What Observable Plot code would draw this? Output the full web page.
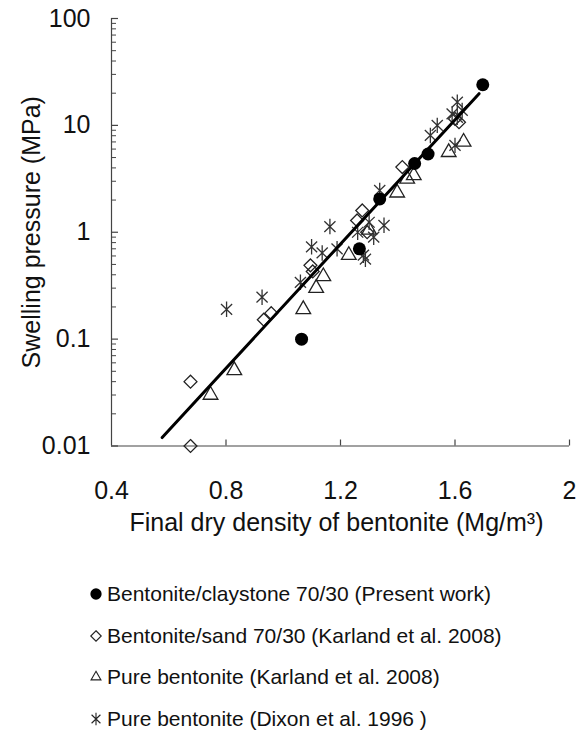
<!DOCTYPE html>
<html><head><meta charset="utf-8">
<script src="https://cdn.jsdelivr.net/npm/d3@7"></script>
<script src="https://cdn.jsdelivr.net/npm/@observablehq/plot@0.6"></script>
<style>
body{margin:0;background:#fff;font-family:Arial,"Liberation Sans",sans-serif;}
#legend{padding-top:13px;}
.row{display:flex;align-items:center;height:41.8px;font-size:21px;color:#111;margin-left:89px;}
.row svg{width:14px;height:14px;margin-right:4px;flex:none;}
</style></head><body><div id="chart"></div><div id="legend"></div>
<script>
// Bentonite/claystone 70/30 (Present work)
const presentX = [1.064, 1.266, 1.337, 1.459, 1.506, 1.697];
const presentY = [0.10, 0.70, 2.05, 4.4, 5.4, 24];
// Bentonite/sand 70/30 (Karland et al. 2008)
const sandX = [0.676, 0.676, 0.932, 0.958, 1.095, 1.103, 1.258, 1.276, 1.293, 1.416, 1.614, 1.60];
const sandY = [0.010, 0.040, 0.152, 0.175, 0.49, 0.43, 1.29, 1.60, 1.0, 4.07, 10.7, 11.5];
// Pure bentonite (Karland et al. 2008)
const karlandX = [0.746, 0.829, 1.07, 1.115, 1.14, 1.229, 1.30, 1.398, 1.433, 1.456, 1.578, 1.63];
const karlandY = [0.030, 0.051, 0.19, 0.30, 0.386, 0.61, 1.05, 2.34, 3.16, 3.40, 5.6, 7.0];
// Pure bentonite (Dixon et al. 1996)
const dixonX = [0.802, 0.926, 1.06, 1.099, 1.136, 1.163, 1.188, 1.28, 1.287, 1.26, 1.30, 1.316, 1.352, 1.337, 1.514, 1.538, 1.59, 1.608, 1.625, 1.608, 1.60];
const dixonY = [0.19, 0.247, 0.34, 0.73, 0.64, 1.13, 0.70, 0.61, 0.56, 1.0, 1.24, 0.90, 1.16, 2.46, 8.06, 10, 12.8, 16.5, 13.8, 11.9, 6.5];
// Fitted line end points
const fitX = [0.577, 1.684];
const fitY = [0.012, 19.8];
// Axis ticks
const xTicks = [0.4, 0.8, 1.2, 1.6, 2];
const yTicks = [0.01, 0.1, 1, 10, 100];
const yMinorMult = [2, 3, 4, 5, 6, 7, 8, 9];
const yMinor = [];
for (const d of [0.01, 0.1, 1, 10]) for (const m of yMinorMult) yMinor.push(+(d * m).toPrecision(3));

const legendItems = [
  {label: "Bentonite/claystone 70/30 (Present work)", sym: "circle"},
  {label: "Bentonite/sand 70/30 (Karland et al. 2008)", sym: "diamond"},
  {label: "Pure bentonite (Karland et al. 2008)", sym: "triangle"},
  {label: "Pure bentonite (Dixon et al. 1996 )", sym: "star"}
];

const zip = (xs, ys) => xs.map((x, i) => ({x, y: ys[i]}));
const present = zip(presentX, presentY);
const sand = zip(sandX, sandY);
const karland = zip(karlandX, karlandY);
const dixon = zip(dixonX, dixonY);
const fit = zip(fitX, fitY);

// six-armed asterisk (vertical + X)
const star6 = {
  draw(ctx, size) {
    const r = Math.sqrt(size) * 0.56;
    const a = 46 * Math.PI / 180;
    const sx = r * Math.sin(a), sy = r * Math.cos(a);
    ctx.moveTo(0, -r); ctx.lineTo(0, r);
    ctx.moveTo(-sx, -sy); ctx.lineTo(sx, sy);
    ctx.moveTo(-sx, sy); ctx.lineTo(sx, -sy);
  }
};

const W = 577, H = 560;
const font = 'Arial, "Liberation Sans", sans-serif';
const axisColor = "#444";

const chart = Plot.plot({
  width: W, height: H,
  marginLeft: 111, marginRight: 8, marginTop: 18, marginBottom: H - 445.5,
  style: {fontFamily: font, background: "#fff", color: "#111"},
  x: {domain: [0.4, 2]},
  y: {type: "log", domain: [0.01, 100]},
  marks: [
    Plot.ruleX([0.4], {stroke: axisColor, strokeWidth: 1.2}),
    Plot.ruleY([0.01], {stroke: axisColor, strokeWidth: 1.2}),
    // inward ticks
    Plot.axisY(yTicks, {tickSize: 7, dx: 7, tickFormat: () => "", label: null, stroke: axisColor, strokeWidth: 1.2}),
    Plot.axisY(yMinor, {tickSize: 5, dx: 5, tickFormat: () => "", label: null, stroke: axisColor}),
    Plot.axisX(xTicks.slice(1), {tickSize: 6, dy: -6, tickFormat: () => "", label: null, stroke: axisColor, strokeWidth: 1.2}),
    // tick labels
    Plot.axisY(yTicks, {tickSize: 0, tickPadding: 21, fontSize: 25, tickFormat: d => String(d), label: null, fill: "#111"}),
    Plot.axisX(xTicks, {tickSize: 0, tickPadding: 35, fontSize: 25, tickFormat: d => String(d), label: null, fill: "#111"}),
    // axis titles
    Plot.text(["Swelling pressure (MPa)"], {frameAnchor: "left", textAnchor: "middle", rotate: -90, dx: -80, text: d => d, fontSize: 25, fill: "#111"}),
    Plot.text(["Final dry density of bentonite (Mg/m³)"], {frameAnchor: "bottom", textAnchor: "middle", dy: 85, dx: -4, text: d => d, fontSize: 25, fill: "#111"}),
    // data
    Plot.dot(sand, {x: "x", y: "y", symbol: "diamond2", r: 5.8, stroke: "#222", strokeWidth: 1.3, fill: "none"}),
    Plot.dot(karland, {x: "x", y: "y", symbol: "triangle2", r: 7, stroke: "#222", strokeWidth: 1.3, fill: "none"}),
    Plot.dot(dixon, {x: "x", y: "y", symbol: star6, r: 7.8, stroke: "#333", strokeWidth: 1.3, fill: "none"}),
    Plot.line(fit, {x: "x", y: "y", stroke: "#000", strokeWidth: 3}),
    Plot.dot(present, {x: "x", y: "y", symbol: "circle", r: 6.5, fill: "#000", stroke: "none"})
  ]
});
document.getElementById("chart").append(chart);

// legend
const legend = d3.select("#legend");
const symMap = {circle: d3.symbolCircle, diamond: d3.symbolDiamond2, triangle: d3.symbolTriangle2, star: star6};
for (const it of legendItems) {
  const row = legend.append("div").attr("class", "row");
  const svg = row.append("svg").attr("viewBox", "-7 -7 14 14");
  const size = it.sym === "circle" ? 100 : it.sym === "star" ? 120 : 70;
  svg.append("path")
    .attr("d", d3.symbol(symMap[it.sym], size)())
    .attr("fill", it.sym === "circle" ? "#000" : "none")
    .attr("stroke", it.sym === "circle" ? "none" : "#222")
    .attr("stroke-width", 1.1);
  row.append("span").text(it.label);
}
</script></body></html>
